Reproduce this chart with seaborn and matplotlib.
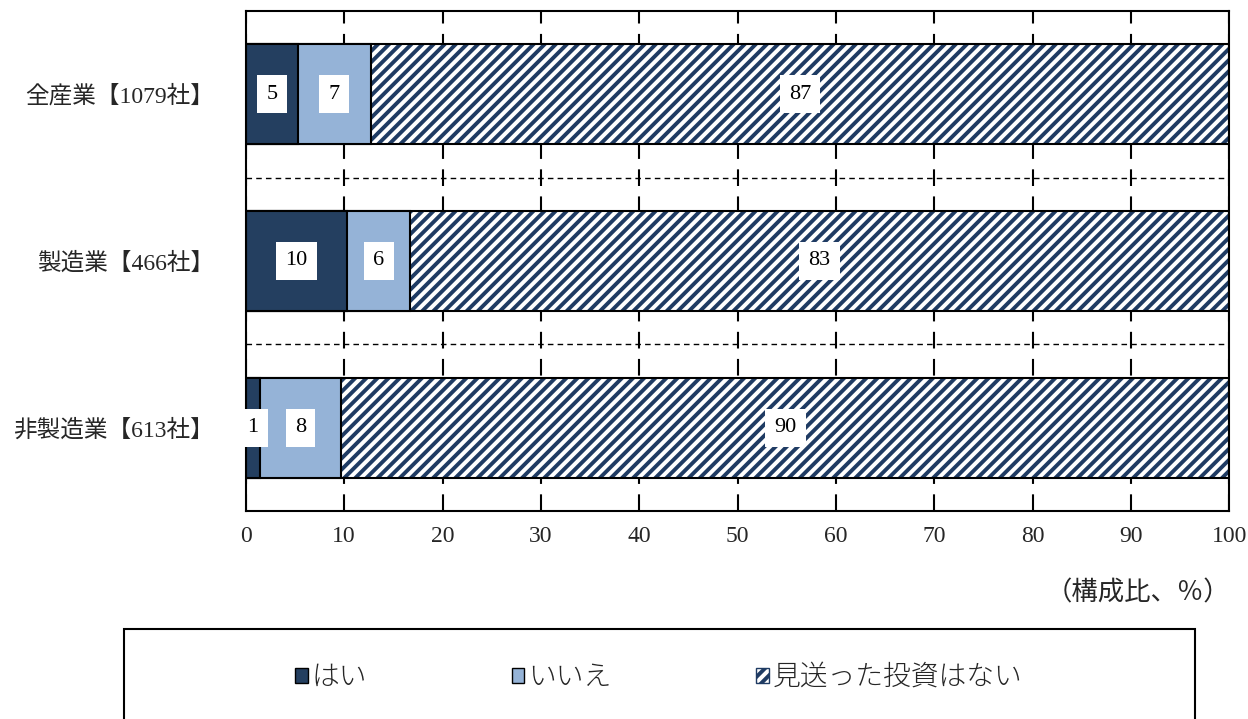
import matplotlib
matplotlib.use("Agg")
import matplotlib.pyplot as plt
import seaborn as sns
import numpy as np
import pandas as pd
from matplotlib.patches import Patch, Rectangle

# Data
categories = ['全産業【1079社】', '製造業【466社】', '非製造業【613社】']
series_names = ['はい', 'いいえ', '見送った投資はない']
yes_vals = [5.3, 10.3, 1.4]
no_vals = [7.4, 6.4, 8.3]
none_vals = [87.3, 83.3, 90.3]
x_ticks = [0, 10, 20, 30, 40, 50, 60, 70, 80, 90, 100]

# Style
sns.set_theme(style="white")
plt.rcParams['font.family'] = ['Liberation Serif', 'Noto Sans CJK JP', 'DejaVu Sans']
plt.rcParams['hatch.linewidth'] = 2.8

navy = '#243F60'
light = '#95B3D7'
hatch_col = '#1F3B63'

df = pd.DataFrame({'cat': categories, 'yes': yes_vals, 'no': no_vals, 'none': none_vals})
df['c1'] = df['yes']
df['c2'] = df['yes'] + df['no']
df['c3'] = df['c2'] + df['none']

fig = plt.figure(figsize=(12.48, 7.19), dpi=100)
ax = fig.add_axes([0.197, 0.289, 0.788, 0.696])

# layers drawn back to front (cumulative widths)
sns.barplot(data=df, x='c3', y='cat', orient='h', width=0.6, color='white',
            edgecolor=hatch_col, hatch='///', linewidth=0, errorbar=None, ax=ax)
sns.barplot(data=df, x='c3', y='cat', orient='h', width=0.6, fill=False,
            color='black', linewidth=1.5, errorbar=None, ax=ax)
sns.barplot(data=df, x='c2', y='cat', orient='h', width=0.6, color=light,
            edgecolor='black', linewidth=1.5, errorbar=None, ax=ax, saturation=1)
sns.barplot(data=df, x='c1', y='cat', orient='h', width=0.6, color=navy,
            edgecolor='black', linewidth=1.5, errorbar=None, ax=ax, saturation=1)

# value labels
for i, row in df.iterrows():
    starts = [0, row['c1'], row['c2']]
    vals = [row['yes'], row['no'], row['none']]
    for s, v in zip(starts, vals):
        ax.text(s + v / 2, i, f"{round(v)}", ha='center', va='center', fontsize=16,
                color='black', zorder=10,
                bbox=dict(boxstyle='square,pad=0.42', fc='white', ec='none'))

ax.set_xlim(0, 100)
ax.set_ylim(2.5, -0.5)
ax.set_xticks(x_ticks)
ax.set_xticklabels([str(t) for t in x_ticks], fontsize=17)
ax.tick_params(axis='x', length=0, pad=11)
ax.tick_params(axis='y', length=0, pad=23, labelsize=17)
ax.set_xlabel('')
ax.set_ylabel('')

ax.set_axisbelow(True)
ax.xaxis.grid(True, color='black', linewidth=1.5, linestyle=(0, (8, 5)))
ax.yaxis.grid(False)
for yb in [0.5, 1.5]:
    ax.axhline(yb, color='black', linewidth=1.0, linestyle=(0, (4, 3)), zorder=0.5)

for sp in ax.spines.values():
    sp.set_visible(True)
    sp.set_color('black')
    sp.set_linewidth(1.5)

fig.text(1230 / 1248, (719 - 593) / 719, '（構成比、％）', ha='right', va='center', fontsize=19)

# legend
handles = [
    Patch(facecolor=navy, edgecolor='black', linewidth=1.0),
    Patch(facecolor=light, edgecolor='black', linewidth=1.0),
    Patch(facecolor='white', edgecolor=hatch_col, hatch='///', linewidth=1.0),
]
leg = fig.legend(handles, series_names, loc='center', bbox_to_anchor=(0.528, (719 - 677) / 719),
                 ncol=3, frameon=False, handlelength=0.45, handleheight=0.45,
                 handletextpad=0.15, columnspacing=5.2,
                 prop={'family': 'Noto Sans CJK JP', 'size': 20, 'weight': 'light'})
fig.add_artist(Rectangle((124 / 1248, -0.1), (1195 - 124) / 1248, (719 - 629) / 719 + 0.1,
                         transform=fig.transFigure, fill=False, edgecolor='black',
                         linewidth=1.5, clip_on=False))

fig.savefig('out.png', dpi=100)
